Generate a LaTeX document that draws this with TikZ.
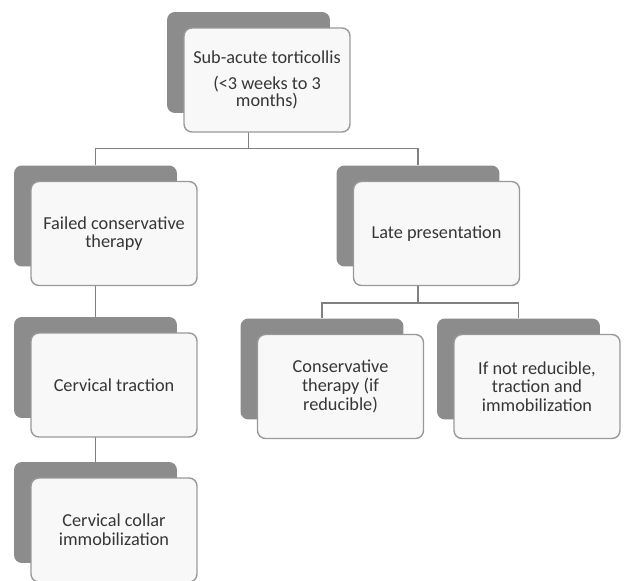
\documentclass[tikz,border=0pt]{standalone}
\usepackage{fontspec}
\setmainfont{Carlito}
\usetikzlibrary{backgrounds}
\definecolor{backgrey}{HTML}{8C8C8C}
\definecolor{frontfill}{HTML}{F8F8F8}
\definecolor{edgegrey}{HTML}{999999}
\definecolor{linegrey}{HTML}{808080}
\definecolor{textgrey}{HTML}{363636}
\begin{document}
\begin{tikzpicture}[x=0.02cm,y=-0.02cm]
        \useasboundingbox (0,0) rectangle (626,581);
        \begin{scope}
            \tikzset{back/.style = {
                rectangle,
                rounded corners=4.5pt,
                fill=backgrey,
                inner sep=0pt,
                minimum width=3.26cm,
                minimum height=2.02cm } }
            \tikzset{front/.style = {
                rectangle,
                rounded corners=4.5pt,
                draw=edgegrey,
                line width=0.8pt,
                fill=frontfill,
                text=textgrey,
                align=center,
                font=\fontsize{10.4}{10.6}\selectfont,
                inner sep=2pt,
                minimum width=3.32cm,
                minimum height=2.08cm } }
            \tikzset{conn/.style = {
                draw=linegrey,
                line width=0.85pt} }
                \foreach \n/\x/\y/\t in {
                    top/248.5/62.5/{Sub-acute torticollis\\[4pt](<3 weeks to 3\\[-0.8pt]months)},
                    fail/95.5/216/{Failed conservative\\therapy},
                    late/418/216/{Late presentation},
                    trac/95.5/367.5/{Cervical traction},
                    coll/95.5/512.5/{Cervical collar\\immobilization},
                    cons/322/369/{Conservative\\therapy (if\\reducible)},
                    notr/518.5/369/{If not reducible,\\traction and\\immobilization}}{
                    \node[back] (b\n) at (\x,\y) {};
                    \node[front] (f\n) at (\x+18.5,\y+17.5) {\t};
                }
                \begin{scope}[on background layer]
                    \path[conn] (btop.south) -- ++(0,35) coordinate (jtop);
                    \path[conn] (jtop) -| (bfail.north);
                    \path[conn] (jtop) -| (blate.north);
                    \path[conn] (blate.south) -- ++(0,36) coordinate (jlate);
                    \path[conn] (jlate) -| (bcons.north);
                    \path[conn] (jlate) -| (bnotr.north);
                    \path[conn] (bfail.south) -- (btrac.north);
                    \path[conn] (btrac.south) -- (bcoll.north);
                \end{scope}
        \end{scope}
    \end{tikzpicture}
\end{document}
